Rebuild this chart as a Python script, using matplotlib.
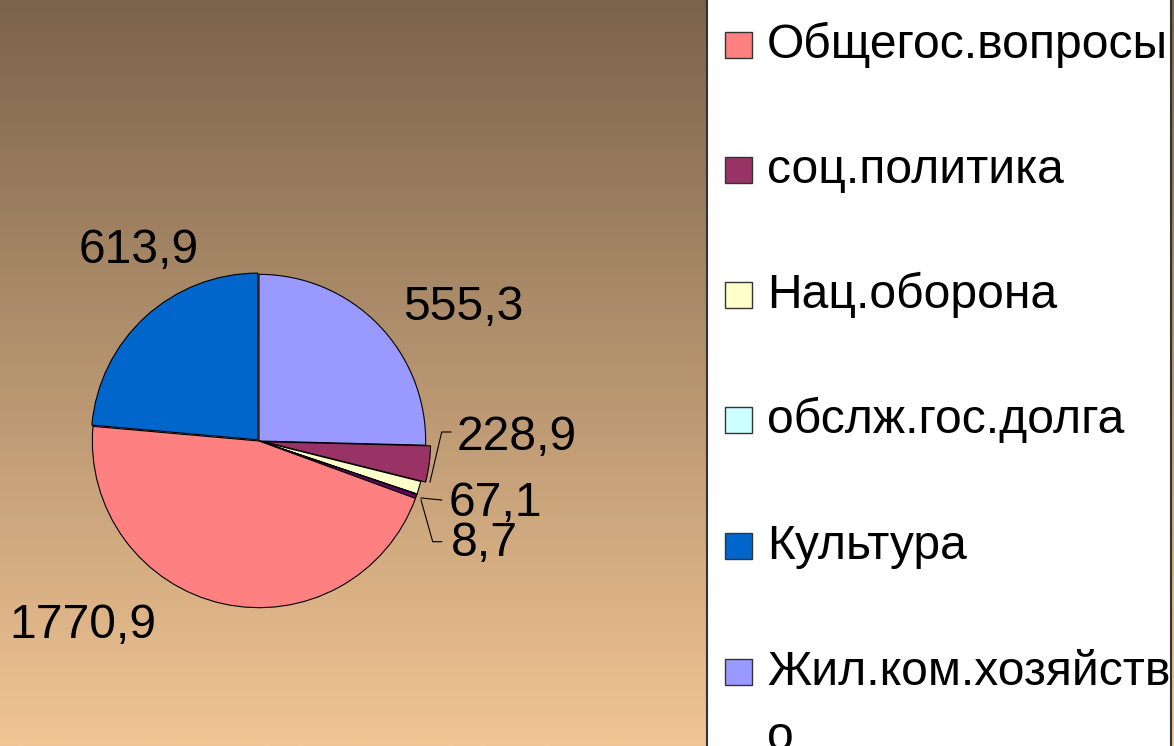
import matplotlib
matplotlib.use("Agg")
import matplotlib.pyplot as plt
import numpy as np
from matplotlib.patches import Rectangle

plt.rcParams['font.family'] = ['Liberation Sans', 'DejaVu Sans']

# ---- data ----
categories = ["Общегос.вопросы", "соц.политика", "Нац.оборона",
              "обслж.гос.долга", "Культура", "Жил.ком.хозяйство"]
legend_lines = ["Общегос.вопросы", "соц.политика", "Нац.оборона",
                "обслж.гос.долга", "Культура", "Жил.ком.хозяйств\nо"]
legend_colors = ["#FF8080", "#993366", "#FFFFCC", "#CCFFFF", "#0066CC", "#9999FF"]
label_values = ["1770,9", "228,9", "67,1", "8,7", "613,9", "555,3"]

# slices as drawn (share of circle, %), clockwise from 12 o'clock
pie_names = ["Жил.ком.хозяйство", "соц.политика", "Нац.оборона",
             "обслж.гос.долга", "прочее", "Общегос.вопросы", "Культура"]
pie_shares = [25.4, 3.5, 1.25, 0.05, 0.4, 45.8, 23.6]
pie_colors = ["#9999FF", "#993366", "#FFFFCC", "#CCFFFF", "#660066", "#FF8080", "#0066CC"]
pie_explode = [0, 0.03, 0, 0, 0, 0, 0.01]

W, H = 1174, 746
FS = 34.6
fig = plt.figure(figsize=(W / 100, H / 100), dpi=100)

# background gradient
bg = fig.add_axes([0, 0, 1, 1])
top = np.array([123, 99, 75]) / 255
bot = np.array([241, 197, 148]) / 255
t = np.linspace(0, 1, 256)[:, None]
grad = (top[None, :] * (1 - t) + bot[None, :] * t)[:, None, :]
bg.imshow(grad, aspect='auto', extent=[0, 1, 0, 1], origin='upper')
bg.set_xlim(0, 1); bg.set_ylim(0, 1)
bg.axis('off')

# pie axes: center (259,441) px, 400 px box, limits +-1.2 -> 166.7 px per unit
cx, cy, box = 259, 441, 400
ax = fig.add_axes([(cx - box / 2) / W, (H - cy - box / 2) / H, box / W, box / H])
ax.pie(pie_shares, colors=pie_colors, startangle=90, counterclock=False,
       explode=pie_explode, radius=1.0,
       wedgeprops=dict(edgecolor='black', linewidth=0.8))
ax.set_xlim(-1.2, 1.2); ax.set_ylim(-1.2, 1.2)
ax.set_aspect('equal')
ax.axis('off')

def px2d(px, py):
    s = box / 2.4
    return (px - cx) / s, (cy - py) / s

label_pos = {"1770,9": (83, 625), "228,9": (517, 438), "67,1": (495, 503),
             "8,7": (484, 543), "613,9": (139, 250), "555,3": (463, 308)}
for lab in label_values:
    x, y = px2d(*label_pos[lab])
    ax.text(x, y, lab, fontsize=FS, ha='center', va='center', color='black',
            clip_on=False)

# leader lines
leaders = [[(430, 482), (441.7, 432), (451, 432)],
           [(421, 498), (441.7, 500)],
           [(421, 500), (432.7, 541.7), (441.7, 541.7)]]
for pts in leaders:
    d = [px2d(*p) for p in pts]
    ax.plot([p[0] for p in d], [p[1] for p in d], color='black', lw=0.8,
            clip_on=False)

# legend panel
panel = Rectangle((707 / W, -0.05), (1171 - 707) / W, 1.1, transform=fig.transFigure,
                  facecolor='white', edgecolor='#333333', linewidth=1.5)
fig.add_artist(panel)

row_base = [58, 183, 308, 433, 559, 685]
for lab, col, yb in zip(legend_lines, legend_colors, row_base):
    fig.add_artist(Rectangle((725 / W, (H - yb) / H), 27 / W, 26 / H,
                             transform=fig.transFigure, facecolor=col,
                             edgecolor='#333333', linewidth=1))
    first, *rest = lab.split("\n")
    fig.text(767 / W, (H - yb) / H, first, fontsize=FS, ha='left', va='baseline')
    for i, r in enumerate(rest):
        fig.text(767 / W, (H - yb - 65 * (i + 1)) / H, r, fontsize=FS,
                 ha='left', va='baseline')

fig.savefig("out.png", dpi=100)
